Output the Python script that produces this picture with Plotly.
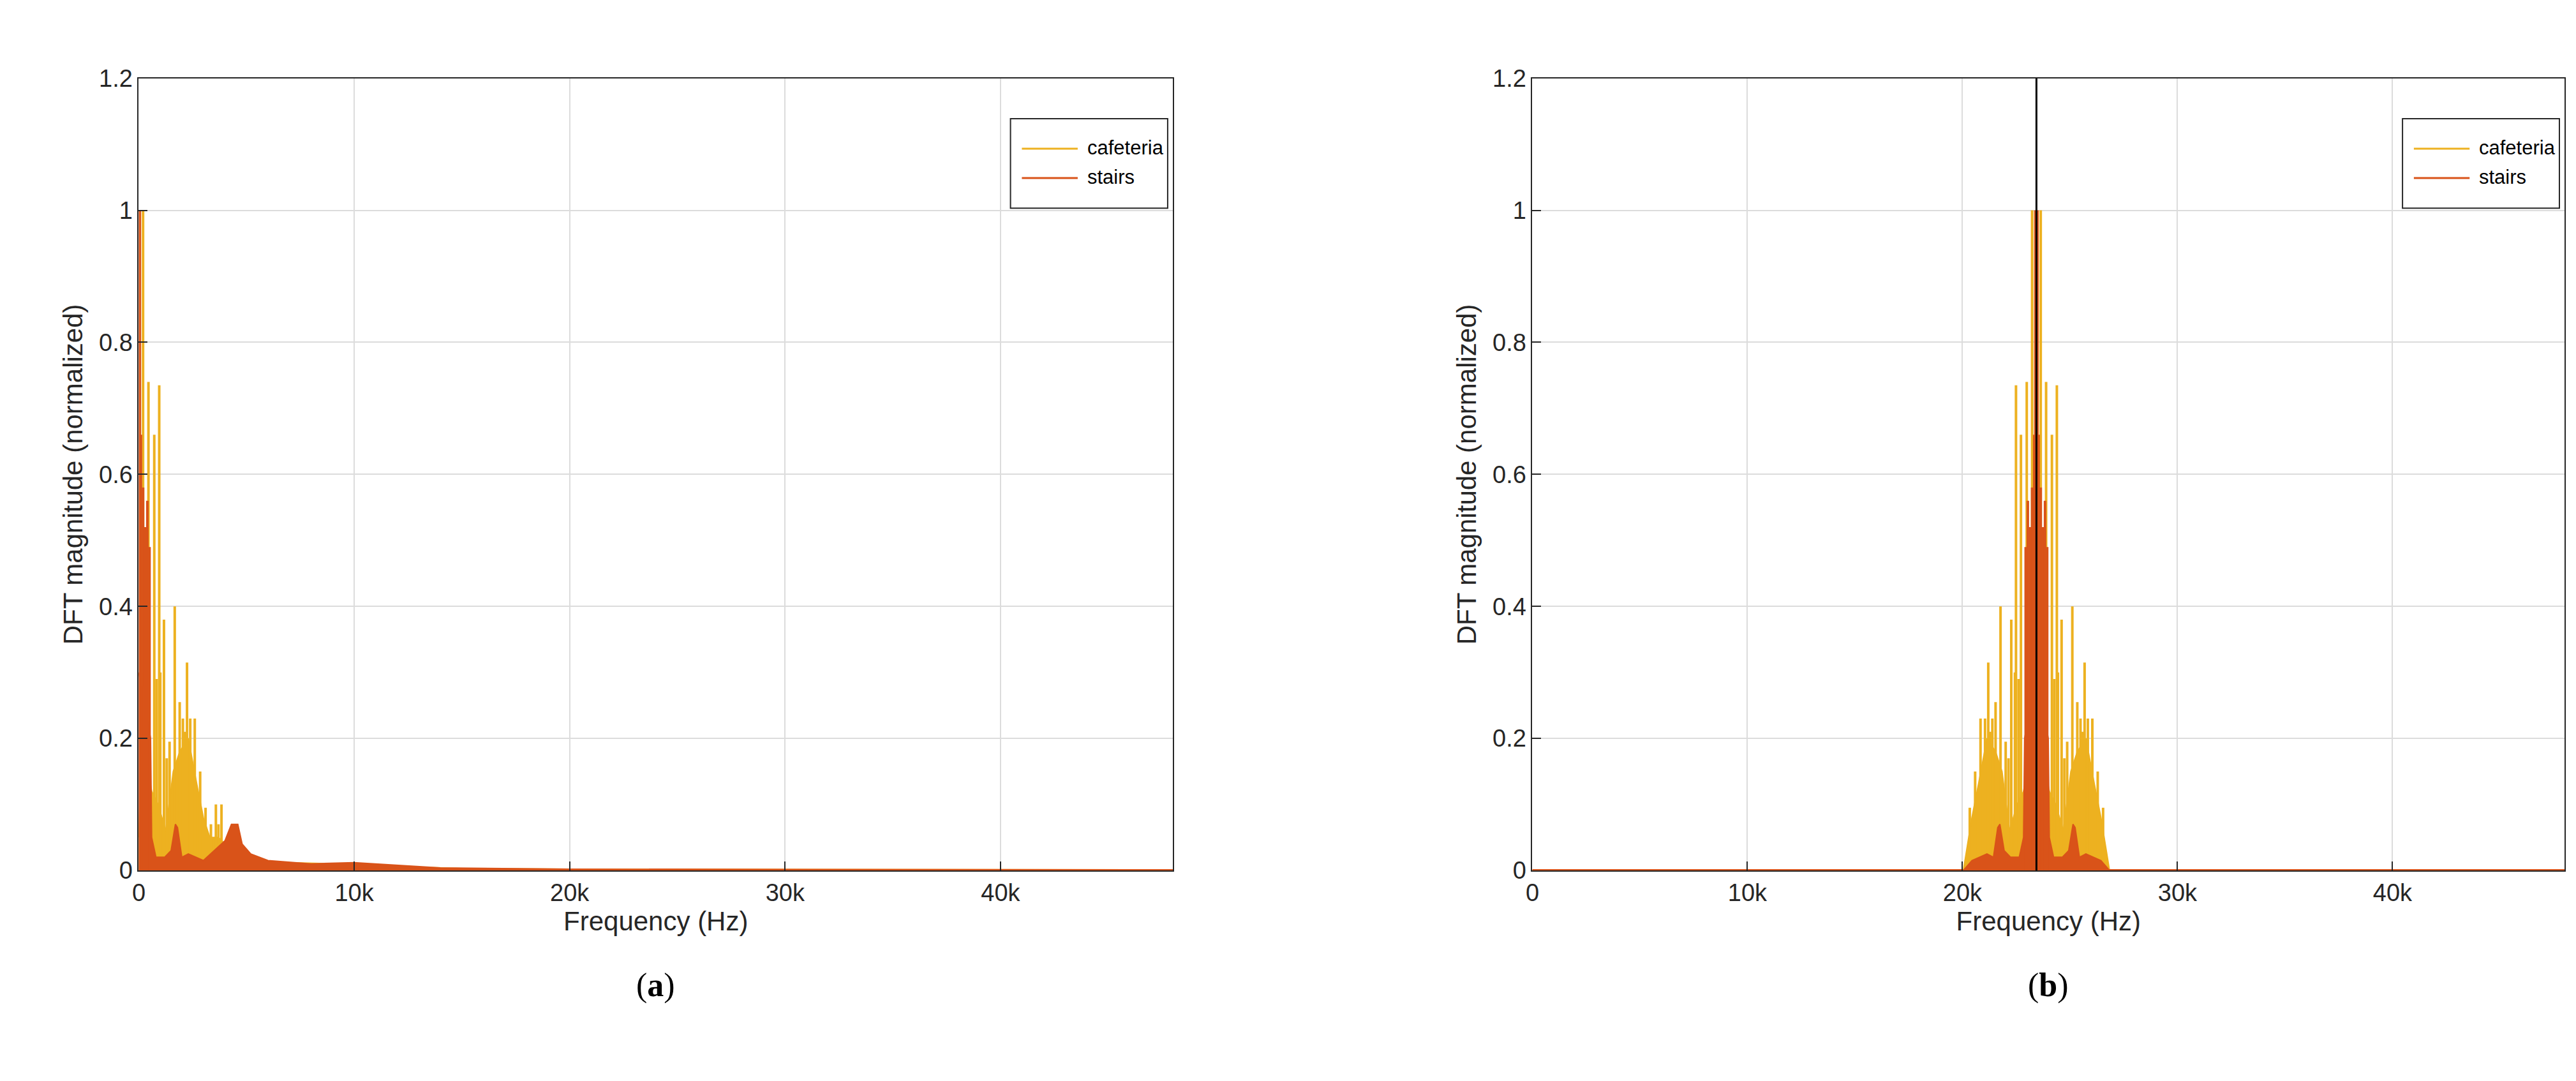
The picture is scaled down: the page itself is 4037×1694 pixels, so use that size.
import plotly.graph_objects as go

YEL = "#EDB120"
RED = "#D95319"

# cafeteria spectrum (panel a): spike peaks, frequency in Hz
caf_peak_f = [200, 450, 720, 830, 950, 1000, 1170, 1300, 1430, 1670, 1780, 1900, 2050, 2150, 2240,
              2390, 2500, 2600, 2850, 3100, 3350, 3580, 3700, 3840]
caf_peak_y = [1.0, 0.74, 0.66, 0.29, 0.735, 0.30, 0.38, 0.17, 0.195, 0.40, 0.16, 0.255, 0.23, 0.21, 0.315,
              0.23, 0.16, 0.23, 0.15, 0.095, 0.07, 0.10, 0.07, 0.10]
# cafeteria noise floor envelope
caf_floor_f = [0, 150, 600, 900, 1250, 1600, 1900, 2300, 2700, 3000, 3300, 3700, 4000, 4200, 5300,
               7000, 9000, 12000, 15000, 20000, 48000]
caf_floor_y = [0.05, 0.2, 0.12, 0.1, 0.06, 0.15, 0.18, 0.2, 0.13, 0.08, 0.05, 0.05, 0.04, 0.02, 0.015,
               0.012, 0.01, 0.006, 0.003, 0.002, 0.001]

# stairs spectrum (panel a)
sta_peak_f = [50, 100, 200, 250, 300, 400, 500]
sta_peak_y = [1.0, 0.66, 0.58, 0.30, 0.52, 0.56, 0.49]
sta_floor_f = [0, 550, 600, 800, 1200, 1500, 1700, 1800, 2000, 2300, 3000, 3500, 4000, 4300, 4600,
               4800, 5200, 6000, 8000, 10000, 12000, 14000, 20000, 48000]
sta_floor_y = [0.3, 0.2, 0.05, 0.02, 0.02, 0.03, 0.07, 0.065, 0.02, 0.025, 0.015, 0.03, 0.045, 0.07, 0.07,
               0.04, 0.025, 0.015, 0.01, 0.012, 0.008, 0.004, 0.002, 0.001]

# panel b: same spectra shifted to the carrier and band-limited
carrier = 23440
band = 3100

x_ticks = [0, 10000, 20000, 30000, 40000]
x_labels = ["0", "10k", "20k", "30k", "40k"]
y_ticks = [0, 0.2, 0.4, 0.6, 0.8, 1.0, 1.2]
y_labels = ["0", "0.2", "0.4", "0.6", "0.8", "1", "1.2"]


def spikes(fs, ys):
    x, y = [], []
    for f, v in zip(fs, ys):
        x += [f, f, None]
        y += [0, v, None]
    return x, y


def mirrored(fs, ys, c, bw):
    out_f, out_y = [], []
    for f, v in zip(fs, ys):
        if f <= bw:
            out_f += [c - f, c + f]
            out_y += [v, v]
    return out_f, out_y


def mirrored_floor(fs, ys, c, bw):
    pts = [(f, v) for f, v in zip(fs, ys) if f <= bw] + [(bw + 300, 0.0)]
    left = [(c - f, v) for f, v in reversed(pts)]
    right = [(c + f, v) for f, v in pts]
    xs = [0, left[0][0]] + [p[0] for p in left] + [p[0] for p in right] + [right[-1][0], 48000]
    yv = [0.001, 0.001] + [p[1] for p in left] + [p[1] for p in right] + [0.001, 0.001]
    return xs, yv


fig = go.Figure()


def add_series(xa, ya, ff, fy, pf, py, col, name):
    fig.add_trace(go.Scatter(x=ff, y=fy, mode="lines", fill="tozeroy", fillcolor=col,
                             line=dict(color=col, width=2), showlegend=False,
                             xaxis=xa, yaxis=ya, hoverinfo="skip"))
    sx, sy = spikes(pf, py)
    fig.add_trace(go.Scatter(x=sx, y=sy, mode="lines", line=dict(color=col, width=4),
                             name=name, showlegend=False, xaxis=xa, yaxis=ya))


add_series("x", "y", caf_floor_f, caf_floor_y, caf_peak_f, caf_peak_y, YEL, "cafeteria")
add_series("x", "y", sta_floor_f, sta_floor_y, sta_peak_f, sta_peak_y, RED, "stairs")

bf, by = mirrored_floor(caf_floor_f, caf_floor_y, carrier, band)
pf, py = mirrored(caf_peak_f, caf_peak_y, carrier, band)
add_series("x2", "y2", bf, by, pf, py, YEL, "cafeteria")
bf, by = mirrored_floor(sta_floor_f, sta_floor_y, carrier, band)
pf, py = mirrored(sta_peak_f, sta_peak_y, carrier, band)
add_series("x2", "y2", bf, by, pf, py, RED, "stairs")

# carrier marker
fig.add_trace(go.Scatter(x=[carrier, carrier], y=[0, 1.2], mode="lines",
                         line=dict(color="black", width=3), showlegend=False,
                         xaxis="x2", yaxis="y2"))

font = dict(family="Liberation Sans, Arial", size=38, color="#262626")
ax = dict(range=[0, 48000], tickvals=x_ticks, ticktext=x_labels, showgrid=True,
          gridcolor="#DCDCDC", gridwidth=2, zeroline=False, showline=True, linecolor="#262626",
          linewidth=2, mirror=True, ticks="inside", ticklen=14, tickwidth=2, tickcolor="#262626",
          tickfont=font, title=dict(text="Frequency (Hz)", font=dict(family=font["family"], size=42, color="#262626"), standoff=10))
ay = dict(range=[0, 1.2], tickvals=y_ticks, ticktext=y_labels, showgrid=True,
          gridcolor="#DCDCDC", gridwidth=2, zeroline=False, showline=True, linecolor="#262626",
          linewidth=2, mirror=True, ticks="inside", ticklen=14, tickwidth=2, tickcolor="#262626",
          tickfont=font, title=dict(text="DFT magnitude (normalized)", font=dict(family=font["family"], size=42, color="#262626"), standoff=12))

fig.update_layout(
    width=4037, height=1694, plot_bgcolor="white", paper_bgcolor="white",
    margin=dict(l=0, r=0, t=0, b=0), showlegend=False,
    xaxis=dict(ax, domain=[199 / 4037, 1824 / 4037], anchor="y"),
    yaxis=dict(ay, domain=[1 - 1369 / 1694, 1 - 96 / 1694], anchor="x"),
    xaxis2=dict(ax, domain=[2389 / 4037, 4011 / 4037], anchor="y2"),
    yaxis2=dict(ay, domain=[1 - 1369 / 1694, 1 - 96 / 1694], anchor="x2"),
)

# legends drawn as boxed annotations inside each axes
for xd, yd in [("x domain", "y domain"), ("x2 domain", "y2 domain")]:
    fig.add_shape(type="rect", xref=xd, yref=yd, x0=0.843, x1=0.995, y0=0.836, y1=0.949,
                  line=dict(color="#262626", width=2), fillcolor="white")
    for i, (nm, col) in enumerate([("cafeteria", YEL), ("stairs", RED)]):
        yy = 0.911 - i * 0.037
        fig.add_shape(type="line", xref=xd, yref=yd, x0=0.854, x1=0.908, y0=yy, y1=yy,
                      line=dict(color=col, width=3))
        fig.add_annotation(xref=xd, yref=yd, x=0.916, y=yy, text=nm, showarrow=False,
                           xanchor="left", yanchor="middle", yshift=2,
                           font=dict(family=font["family"], size=31, color="black"))

for xd, lab in [("x domain", "a"), ("x2 domain", "b")]:
    fig.add_annotation(xref=xd, yref="paper", x=0.5, y=1 - 1585 / 1694, text="(<b>%s</b>)" % lab,
                       showarrow=False, font=dict(family="Liberation Serif", size=52, color="black"))

fig.write_html("out.html")
